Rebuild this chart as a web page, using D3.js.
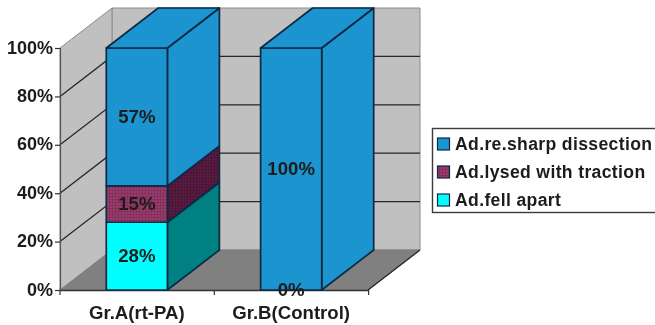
<!DOCTYPE html>
<html><head><meta charset="utf-8">
<script src="https://cdn.jsdelivr.net/npm/d3@7"></script>
<style>
html,body{margin:0;padding:0;background:#fff;overflow:hidden}
text{font-family:"Liberation Sans",Arial,sans-serif;font-weight:bold;fill:#1c1c1c}
</style></head><body>
<svg id="c" width="655" height="325"></svg>
<script>
const categories = ["Gr.A(rt-PA)", "Gr.B(Control)"];
const seriesNames = ["Ad.fell apart", "Ad.lysed with traction", "Ad.re.sharp dissection"];
const fellApart = [28, 0];
const lysedTraction = [15, null];
const sharpDissection = [57, 100];
const yTicks = [0, 20, 40, 60, 80, 100];
const frontColors = ["#00ffff", "#9a3a6c", "#1a94d0"];
const sideColors = ["#008080", "#5a1c42", "#1a94d0"];
const legendOrder = [2, 1, 0];

const width = 655, height = 325;
const plot = {left: 60, right: 368, top: 48, bottom: 290};
const depth = {x: 52, y: -40};

const x = d3.scaleBand().domain(categories).range([plot.left, plot.right]).paddingInner(0.604).paddingOuter(0.3);
const y = d3.scaleLinear().domain([0, 100]).range([plot.bottom, plot.top]);
const svg = d3.select("#c");

const defs = svg.append("defs");
const f = defs.append("filter").attr("id", "soft").attr("x", "-5%").attr("y", "-5%").attr("width", "110%").attr("height", "110%");
f.append("feGaussianBlur").attr("stdDeviation", 0.5);
const hatch = (id, bg, fg) => {
  const p = defs.append("pattern").attr("id", id).attr("width", 3).attr("height", 3).attr("patternUnits", "userSpaceOnUse");
  p.append("rect").attr("width", 3).attr("height", 3).attr("fill", bg);
  p.append("path").attr("d", "M0 1.5H3M1.5 0V3").attr("stroke", fg).attr("stroke-width", 0.7);
};
hatch("hf", frontColors[1], "#7d2c58");
hatch("hs", sideColors[1], "#481434");

const g = svg.append("g").attr("filter", "url(#soft)");
const poly = (pts, fill, stroke, sw) => g.append("polygon")
  .attr("points", pts.map(p => p.join(",")).join(" "))
  .attr("fill", fill).attr("stroke", stroke).attr("stroke-width", sw).attr("stroke-linejoin", "round");
const dx = depth.x, dy = depth.y;
const L = plot.left, R = plot.right, T = y(100), B = y(0);

// walls and floor
poly([[L + dx, T + dy], [R + dx, T + dy], [R + dx, B + dy], [L + dx, B + dy]], "#c0c0c0", "#8c8c8c", 1);
poly([[L, T], [L + dx, T + dy], [L + dx, B + dy], [L, B]], "#c0c0c0", "#8c8c8c", 1);
poly([[L, B], [L + dx, B + dy], [R + dx, B + dy], [R, B]], "#808080", "#808080", 1);

// gridlines
yTicks.filter(t => t > 0 && t < 100).forEach(t => {
  g.append("path").attr("fill", "none").attr("stroke", "#262626").attr("stroke-width", 1.3)
    .attr("d", `M${L},${y(t)}L${L + dx},${y(t) + dy}L${R + dx},${y(t) + dy}`);
});
g.append("path").attr("fill", "none").attr("stroke", "#262626").attr("stroke-width", 1.3)
  .attr("d", `M${R},${B}L${R + dx},${B + dy}`);

// axes
const yAxis = d3.axisLeft(y).tickValues(yTicks).tickFormat(d => d + "%").tickSize(5).tickPadding(2);
const ya = g.append("g").attr("transform", `translate(${L},0)`).call(yAxis);
ya.select(".domain").attr("stroke", "#555").attr("stroke-width", 1.2);
ya.selectAll("line").attr("stroke", "#333").attr("stroke-width", 1.2);
ya.selectAll("text").attr("font-size", 18).attr("font-family", null).attr("dy", "0.28em");

const xAxis = d3.axisBottom(x).tickSize(0).tickPadding(15.5);
const xa = g.append("g").attr("transform", `translate(0,${B})`).call(xAxis);
xa.select(".domain").attr("stroke", "#333").attr("stroke-width", 1.5);
xa.selectAll("text").attr("font-size", 18.6).attr("font-family", null);
const step = x.step();
[0, 1, 2].forEach(i => {
  g.append("line").attr("x1", L + i * step).attr("x2", L + i * step).attr("y1", B).attr("y2", B + 5)
    .attr("stroke", "#333").attr("stroke-width", 1.2);
});

// bars
const series = [fellApart, lysedTraction, sharpDissection];
const edge = "#0c2a44";
categories.forEach((c, ci) => {
  let acc = 0;
  const x0 = x(c), x1 = x0 + x.bandwidth();
  const stacks = [];
  series.forEach((s, si) => {
    const v = s[ci];
    const lo = acc, hi = acc + (v || 0);
    acc = hi;
    stacks.push({si, v, lo, hi});
    if (!v) return;
    const front = si === 1 ? "url(#hf)" : frontColors[si];
    const side = si === 1 ? "url(#hs)" : sideColors[si];
    poly([[x1, y(lo)], [x1 + dx, y(lo) + dy], [x1 + dx, y(hi) + dy], [x1, y(hi)]], side, edge, 1.7);
    poly([[x0, y(lo)], [x1, y(lo)], [x1, y(hi)], [x0, y(hi)]], front, edge, 1.7);
  });
  const topSeries = stacks.filter(d => d.v).pop();
  poly([[x0, y(acc)], [x1, y(acc)], [x1 + dx, y(acc) + dy], [x0 + dx, y(acc) + dy]], frontColors[topSeries.si], edge, 1.7);
  stacks.forEach(d => {
    if (d.v === null) return;
    g.append("text").attr("x", (x0 + x1) / 2).attr("y", y((d.lo + d.hi) / 2)).attr("dy", "0.34em")
      .attr("text-anchor", "middle").attr("font-size", 18.6).text(d.v + "%");
  });
});

// legend
const lg = g.append("g");
lg.append("rect").attr("x", 432.5).attr("y", 128.5).attr("width", 240).attr("height", 84)
  .attr("fill", "#fff").attr("stroke", "#3a3a3a").attr("stroke-width", 1.4);
legendOrder.forEach((si, i) => {
  const cy = 144 + i * 28;
  lg.append("rect").attr("x", 437.5).attr("y", cy - 6).attr("width", 12).attr("height", 12)
    .attr("fill", si === 1 ? "url(#hf)" : frontColors[si]).attr("stroke", edge).attr("stroke-width", 1.2);
  lg.append("text").attr("x", 455).attr("y", cy).attr("dy", "0.36em").attr("font-size", 17.6)
    .attr("letter-spacing", 0.35).text(seriesNames[si]);
});
</script></body></html>
